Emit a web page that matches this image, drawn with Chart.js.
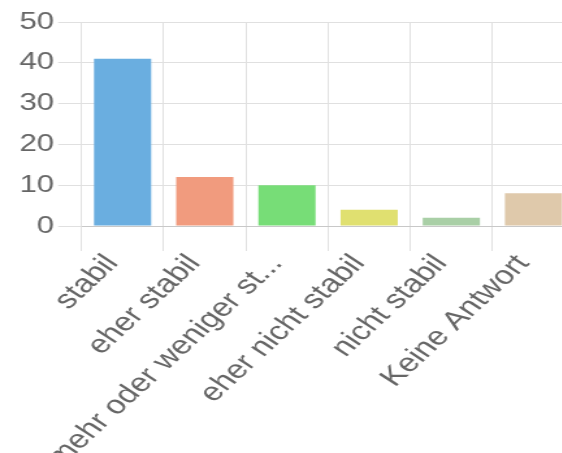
<!DOCTYPE html>
<html>
<head>
<meta charset="utf-8">
<script src="https://cdn.jsdelivr.net/npm/chart.js@4/dist/chart.umd.min.js"></script>
<style>
  html, body { margin: 0; padding: 0; background: #fff; overflow: hidden; width: 562px; height: 453px; }
  /* the reference is stretched sideways, so the chart is drawn narrow and scaled */
  #wrap { width: 450px; height: 453px; transform: scale(1.3, 1); transform-origin: 0 0; }
  canvas { display: block; }
</style>
</head>
<body>
<div id="wrap"><canvas id="chart" width="450" height="453"></canvas></div>
<script>
// Daten
const categories = ['stabil', 'eher stabil', 'mehr oder weniger stabil', 'eher nicht stabil', 'nicht stabil', 'Keine Antwort'];
const counts = [41, 12, 10, 4, 2, 8];
const barColors = ['#6aaee0', '#f19b7e', '#77dd77', '#e0e070', '#a9cfa6', '#dfc9ab'];
const yTicks = [0, 10, 20, 30, 40, 50];

const ctx = document.getElementById('chart').getContext('2d');
const chart = new Chart(ctx, {
  type: 'bar',
  data: {
    labels: categories,
    datasets: [{
      data: counts,
      backgroundColor: barColors,
      borderWidth: 0,
      categoryPercentage: 0.8,
      barPercentage: 0.87
    }]
  },
  options: {
    responsive: false,
    animation: false,
    devicePixelRatio: 1,
    layout: { padding: { left: 12, right: 8, top: 22 } },
    plugins: {
      legend: { display: false },
      tooltip: { enabled: false }
    },
    scales: {
      x: {
        // the long label runs off the bottom like in the original
        afterFit: function(axis) { axis.height = 227; },
        grid: { color: '#e0e0e0', tickLength: 25 },
        border: { color: '#c8c8c8' },
        ticks: {
          autoSkip: false,
          minRotation: 50,
          maxRotation: 50,
          padding: -2,
          labelOffset: -8,
          color: '#666',
          font: { family: 'Liberation Sans', size: 26 },
          callback: function(value) {
            const label = this.getLabelForValue(value);
            return label.length > 20 ? label.slice(0, 20) + '...' : label;
          }
        }
      },
      y: {
        min: yTicks[0],
        max: yTicks[yTicks.length - 1],
        afterBuildTicks: function(axis) {
          axis.ticks = yTicks.map(v => ({ value: v }));
        },
        grid: { color: '#e0e0e0', tickLength: 18 },
        border: { color: '#e0e0e0' },
        ticks: { color: '#666', font: { family: 'Liberation Sans', size: 24 }, padding: 3 }
      }
    }
  }
});
</script>
</body>
</html>
